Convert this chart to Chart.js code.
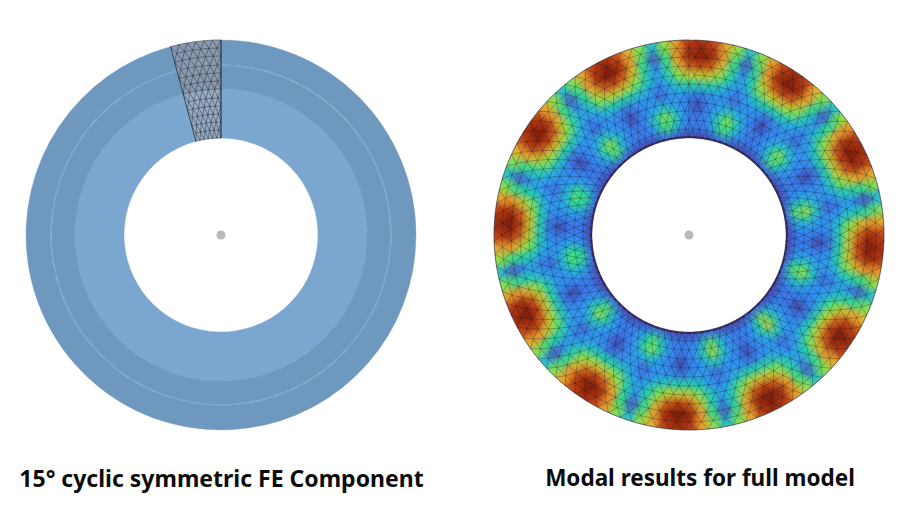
<!DOCTYPE html>
<html>
<head>
<meta charset="utf-8">
<script src="https://cdn.jsdelivr.net/npm/chart.js@4/dist/chart.umd.js"></script>
<style>
html, body { margin: 0; padding: 0; background: #fff; }
body { position: relative; width: 903px; height: 516px; overflow: hidden; }
canvas { position: absolute; left: 0; top: 0; }
.box { position: absolute; top: 30px; width: 410px; height: 410px; }
.field {
    position: absolute; left: 0; top: 0; width: 410px; height: 410px;
    -webkit-mask-image: radial-gradient(circle at center, transparent 96.5px, #000 97.5px, #000 194.6px, transparent 195.4px);
    mask-image: radial-gradient(circle at center, transparent 96.5px, #000 97.5px, #000 194.6px, transparent 195.4px);
}
#fieldChart { filter: blur(3.5px); }
.title {
    position: absolute; top: 463px; white-space: nowrap; text-align: center; color: #0c0c0c;
    font-family: "Noto Sans", sans-serif; font-weight: 700; line-height: 30px;
}
</style>
</head>
<body>
<div class="box" style="left:16px">
    <canvas id="sectorChart" width="410" height="410"></canvas>
    <canvas id="sectorMesh" width="410" height="410"></canvas>
</div>
<div class="box" style="left:484px">
    <div class="field"><canvas id="fieldChart" width="410" height="410"></canvas></div>
    <canvas id="fieldMesh" width="410" height="410"></canvas>
</div>
<div class="title" style="left:0;width:443px;font-size:23px">15° cyclic symmetric FE Component</div>
<div class="title" style="left:500px;width:400px;font-size:22.5px">Modal results for full model</div>

<script>
// left ring, outside to inside: thickness of each band, wedge + rest of the circle in degrees
var sectorDegrees = [15, 345];
var bandWeights = [24.5, 1, 23.5, 49];
var bandColors = ['#6e98bd', '#7ea6c8', '#6e98bd', '#7ba6cf'];
var wedgeColors = ['#8a9bb0', '#8a9bb0', '#8a9bb0', '#98adc2'];

// right ring: modal amplitude (0-100), one list per ring, 96 cells of 3.75 deg
var ring190 = [95,91,80,67,45,66,81,92, 96,92,79,65,44,66,81,93, 96,92,80,66,43,64,80,91, 95,93,82,67,45,65,78,90, 96,92,80,66,46,67,81,92, 97,93,80,65,44,66,80,93, 96,92,79,67,45,66,81,92, 96,91,80,66,43,66,80,91, 96,93,81,65,44,67,80,92, 96,92,80,66,46,66,79,91, 96,92,80,67,45,65,80,92, 96,91,79,66,44,67,81,92];
var ring180 = [99,96,82,57,14,56,83,96, 100,96,81,55,13,56,82,97, 100,96,82,56,12,54,82,95, 99,97,84,57,14,55,80,94, 100,96,82,56,15,57,83,96, 100,97,82,55,13,56,82,97, 100,96,81,57,13,56,83,96, 100,95,82,56,12,56,82,95, 100,97,83,55,13,57,82,96, 100,96,82,56,15,56,81,95, 100,96,82,57,14,55,82,96, 100,95,81,56,13,57,83,96];
var ring170 = [91,88,74,53,28,52,75,88, 92,88,73,51,27,52,74,89, 92,88,74,52,27,50,74,87, 91,89,76,53,28,51,72,86, 92,88,74,52,29,53,75,88, 93,89,74,51,28,52,74,89, 92,88,73,53,28,52,75,88, 92,87,74,52,27,52,74,87, 92,89,75,51,28,53,74,88, 92,88,74,52,29,52,73,87, 92,88,74,53,28,51,74,88, 92,87,73,52,28,53,75,88];
var ring160 = [73,72,64,49,36,48,65,72, 74,72,63,47,35,48,64,73, 74,72,64,48,35,46,64,71, 73,73,66,49,36,47,62,70, 74,72,64,48,37,49,65,72, 75,73,64,47,36,48,64,73, 74,72,63,49,36,48,65,72, 74,71,64,48,35,48,64,71, 74,73,65,47,36,49,64,72, 74,72,64,48,37,48,63,71, 74,72,64,49,36,47,64,72, 74,71,63,48,36,49,65,72];
var ring150 = [49,50,46,37,24,36,47,50, 50,50,45,35,23,36,46,51, 50,50,46,36,22,34,46,49, 49,51,48,37,23,35,44,48, 50,50,46,36,25,37,47,50, 51,51,46,35,24,36,46,51, 50,50,45,37,24,36,47,50, 50,49,46,36,22,36,46,49, 50,51,47,35,23,37,46,50, 50,50,46,36,25,36,45,49, 50,50,46,37,24,35,46,50, 50,49,45,36,23,37,47,50];
var ring140 = [19,28,32,31,18,30,33,28, 20,28,31,29,18,30,32,29, 20,28,32,30,17,29,32,27, 19,29,34,31,18,30,30,26, 20,28,32,30,19,31,33,28, 21,29,32,29,18,30,32,29, 20,28,31,31,18,30,33,28, 20,27,32,30,17,30,32,27, 20,29,33,29,18,31,32,28, 20,28,32,30,19,30,31,27, 20,28,32,31,18,29,32,28, 20,27,31,30,18,31,33,28];
var ring130 = [6,24,31,41,47,40,32,24, 5,24,30,39,47,40,31,25, 5,24,31,40,49,38,31,23, 6,25,33,41,49,39,29,22, 5,24,31,40,53,41,32,24, 6,25,31,39,51,40,31,25, 5,24,30,41,48,40,32,24, 6,23,31,40,47,40,31,23, 5,25,32,39,44,41,31,24, 6,24,31,40,44,40,30,23, 5,24,31,41,48,39,31,24, 6,23,30,40,47,41,32,24];
var ring120 = [22,26,38,55,67,54,39,26, 21,26,37,53,68,54,38,27, 21,26,38,54,71,52,38,25, 22,27,40,55,69,53,36,24, 21,26,38,54,75,55,39,26, 22,27,38,53,72,54,38,27, 21,26,37,55,67,54,39,26, 22,25,38,54,69,54,38,25, 21,27,39,53,61,55,38,26, 22,26,38,54,61,54,37,25, 21,26,38,55,69,53,38,26, 22,25,37,54,67,55,39,26];
var ring110 = [24,26,33,49,61,48,34,26, 23,26,32,47,62,48,33,27, 23,26,33,48,64,46,33,25, 24,27,35,49,63,47,31,24, 23,26,33,48,68,49,34,26, 24,27,33,47,65,48,33,27, 23,26,32,49,61,48,34,26, 24,25,33,48,62,48,33,25, 23,27,34,47,56,49,33,26, 24,26,33,48,56,48,32,25, 23,26,33,49,62,47,33,26, 24,25,32,48,61,49,34,26];
var ring100 = [12,13,14,19,27,19,14,13, 11,13,14,18,27,19,14,13, 11,13,14,19,28,18,14,12, 12,13,15,19,27,19,13,12, 11,13,14,19,29,19,14,13, 12,13,14,18,28,19,14,13, 11,13,14,19,27,19,14,13, 12,12,14,19,27,19,14,12, 11,13,15,18,25,19,14,13, 12,13,14,19,25,19,14,12, 11,13,14,19,27,18,14,13, 12,12,14,19,27,19,14,13];
var fieldRings = [ring190, ring180, ring170, ring160, ring150, ring140, ring130, ring120, ring110, ring100];
var fieldWeights = [15, 10, 10, 10, 10, 10, 10, 10, 10, 13];

// colour scale of the contour plot
var scaleStops = [0, 10, 25, 40, 50, 60, 70, 78, 85, 92, 100];
var scaleColors = [[58,45,122],[74,75,180],[56,128,240],[40,170,235],[34,205,176],[70,230,110],[175,222,56],[232,180,48],[230,122,37],[184,58,18],[122,26,8]];

function amplitudeColor(v) {
    var i = 0;
    while (i < scaleStops.length - 2 && v > scaleStops[i + 1]) i++;
    var t = (v - scaleStops[i]) / (scaleStops[i + 1] - scaleStops[i]);
    var a = scaleColors[i], b = scaleColors[i + 1];
    return `rgb(${Math.round(a[0] + (b[0] - a[0]) * t)},${Math.round(a[1] + (b[1] - a[1]) * t)},${Math.round(a[2] + (b[2] - a[2]) * t)})`;
}

// mesh density: ring radii and number of divisions
var fieldMeshRadii = [97, 106, 115, 124, 133, 142, 151, 160, 169, 178, 187, 195];
var fieldMeshCells = 96;
var wedgeMeshRadii = [97, 105, 113, 121, 129, 137, 146, 154, 162, 170, 179, 187, 195];
var wedgeMeshCells = 6;

function polar(r, deg) {
    var a = deg * Math.PI / 180;
    return { x: r * Math.sin(a), y: r * Math.cos(a) };
}

function meshPoints(radii, cells, startDeg, endDeg) {
    var points = [];
    var step = (endDeg - startDeg) / cells;
    var vertex = function(i, j) {
        var deg = startDeg + step * (j + (i % 2 ? 0.5 : 0));
        return polar(radii[i], Math.min(deg, endDeg));
    };
    for (let i = 0; i < radii.length; i++) {
        for (let j = 0; j <= cells; j++) points.push(vertex(i, j));
        points.push({ x: NaN, y: NaN });
        if (i < radii.length - 1) {
            const even = i % 2 ? i + 1 : i;
            const odd = i % 2 ? i : i + 1;
            for (let j = 0; j <= cells; j++) {
                points.push(vertex(even, j));
                points.push(vertex(odd, j));
            }
            points.push({ x: NaN, y: NaN });
        }
    }
    return points;
}

function circlePoints(r) {
    var points = [];
    for (let d = 0; d <= 360; d += 2) points.push(polar(r, d));
    return points;
}

function wedgeOutline(startDeg, endDeg) {
    return [polar(97, startDeg), polar(195, startDeg), { x: NaN, y: NaN }, polar(97, endDeg), polar(195, endDeg)];
}

// the dash keeps Chart.js off its fast path, that one collapses steep segments to vertical strokes
function lineSet(points, color, width) {
    return { type: 'scatter', data: points, showLine: true, borderColor: color, borderWidth: width, borderDash: [100000, 0], pointRadius: 0, spanGaps: false, fill: false };
}

function hubSet() {
    return { type: 'scatter', data: [{ x: 0, y: 0 }], pointRadius: 4.5, backgroundColor: '#b8b8b8', borderWidth: 0 };
}

function baseOptions() {
    return {
        responsive: false,
        animation: false,
        events: [],
        // autoPadding would shrink the mesh plot and it would not line up with the ring below
        layout: { padding: 0, autoPadding: false },
        plugins: { legend: { display: false }, tooltip: { enabled: false }, title: { display: false } }
    };
}

function meshChart(id, datasets) {
    var options = baseOptions();
    options.scales = {
        x: { type: 'linear', min: -205, max: 205, display: false },
        y: { type: 'linear', min: -205, max: 205, display: false }
    };
    new Chart(document.getElementById(id), { type: 'scatter', data: { datasets: datasets }, options: options });
}

// left ring
var sectorOptions = baseOptions();
sectorOptions.radius = 195;
sectorOptions.cutout = (97 / 195 * 100) + '%';
sectorOptions.rotation = -15;
new Chart(document.getElementById('sectorChart'), {
    type: 'doughnut',
    data: {
        labels: ['15° sector', 'rest'],
        datasets: bandWeights.map(function(w, i) {
            var colors = [wedgeColors[i], bandColors[i]];
            return { data: sectorDegrees, weight: w, backgroundColor: colors, borderColor: colors, borderWidth: 0.4 };
        })
    },
    options: sectorOptions
});
meshChart('sectorMesh', [
    lineSet(meshPoints(wedgeMeshRadii, wedgeMeshCells, -15, 0), 'rgba(30,35,50,0.65)', 0.7),
    lineSet(wedgeOutline(-15, 0), 'rgba(40,45,60,0.8)', 1),
    hubSet()
]);

// right ring, the first cell is centred on the first red lobe
var fieldOptions = baseOptions();
fieldOptions.radius = 200;
fieldOptions.cutout = '46%';
fieldOptions.rotation = 1.875;
new Chart(document.getElementById('fieldChart'), {
    type: 'doughnut',
    data: {
        labels: ring190.map(function(v, i) { return i; }),
        datasets: fieldRings.map(function(ring, i) {
            var colors = ring.map(amplitudeColor);
            return { data: ring.map(function() { return 1; }), weight: fieldWeights[i], backgroundColor: colors, borderColor: colors, borderWidth: 1 };
        })
    },
    options: fieldOptions
});
meshChart('fieldMesh', [
    lineSet(meshPoints(fieldMeshRadii, fieldMeshCells, 0, 360), 'rgba(20,20,45,0.5)', 0.6),
    lineSet(circlePoints(98), '#3d2f66', 2),
    lineSet(circlePoints(195), 'rgba(70,70,70,0.7)', 0.7),
    hubSet()
]);
</script>
</body>
</html>
